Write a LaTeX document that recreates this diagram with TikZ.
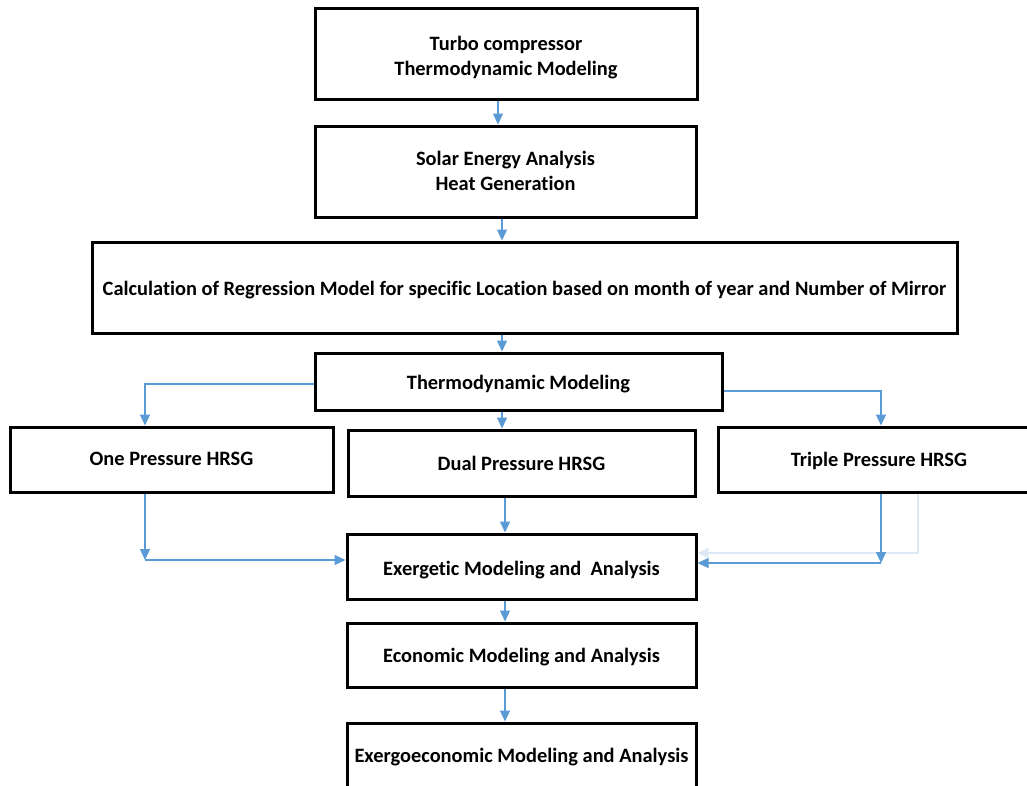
\documentclass[tikz,border=0pt]{standalone}
\usepackage{fontspec}
\setmainfont{Carlito}[Ligatures={NoCommon,NoContextual}]
\usepackage{tikz}
\usetikzlibrary{arrows.meta,positioning,calc}

\definecolor{flowblue}{RGB}{91,155,213}
\definecolor{faintblue}{RGB}{222,232,246}
% text of a box, lowered without changing the box size
\newcommand{\boxtext}[2]{\raisebox{#1}[\height][\depth]{\begin{tabular}{@{}c@{}}#2\end{tabular}}}

\begin{document}
\begin{tikzpicture}[x=1pt,y=-1pt,
    box/.style={draw=black, line width=3pt, fill=white,
      font=\fontsize{20.4}{25}\selectfont\bfseries, inner sep=0pt},
    flow/.style={draw=flowblue, line width=1.2pt, ->, >={Triangle[length=11pt,width=10pt]}},
    faint/.style={draw=faintblue, line width=1.2pt, ->, >={Triangle[length=11pt,width=10pt]}}]
  \useasboundingbox (0,0) rectangle (1027,785);
  \clip (0,0) rectangle (1027,785);
  % boxes
  \node[box, minimum width=382pt, minimum height=91pt] (turbo) at (506,53.5)
    {\boxtext{-4.5pt}{Turbo compressor\\Thermodynamic Modeling}};
  \node[box, minimum width=381pt, minimum height=91pt] (solar) at (505.5,171.5)
    {\boxtext{-1.5pt}{Solar Energy Analysis\\Heat Generation}};
  \node[box, minimum width=865pt, minimum height=91pt] (regr) at (524.5,287.5)
    {\boxtext{-3pt}{Calculation of Regression Model for specific Location based on month of year and Number of Mirror}};
  \node[box, minimum width=407pt, minimum height=57pt] (thermo) at (518.5,381.5)
    {\boxtext{-3pt}{Thermodynamic Modeling}};
  \node[box, minimum width=323pt, minimum height=65pt] (one) at (171.5,459.5)
    {\boxtext{-1pt}{One Pressure HRSG}};
  \node[box, minimum width=347pt, minimum height=66pt] (dual) at (521.5,463)
    {\boxtext{-2pt}{Dual Pressure HRSG}};
  \node[box, minimum width=322pt, minimum height=65pt] (triple) at (879,459.5)
    {\boxtext{-2pt}{Triple Pressure HRSG}};
  \node[box, minimum width=349pt, minimum height=65pt] (exerg) at (521.5,566.5)
    {\boxtext{-4pt}{Exergetic Modeling and\ \ Analysis}};
  \node[box, minimum width=349pt, minimum height=64pt] (econ) at (521.5,655)
    {\boxtext{-2pt}{Economic Modeling and Analysis}};
  \node[box, minimum width=349pt, minimum height=64pt] (execo) at (521.5,755)
    {\boxtext{-2pt}{Exergoeconomic Modeling and Analysis}};
  % corners
  \coordinate (onecorner) at (145,560);
  \coordinate (tricorner) at (881,563);
  % connectors
  \draw[flow] ([xshift=-8pt]turbo.south) -- ([xshift=-8pt]turbo.south |- solar.north);
  \draw[flow] ([xshift=-3.5pt]solar.south) -- ([xshift=-3.5pt]solar.south |- regr.north);
  \draw[flow] ([xshift=-16.5pt]thermo.north |- regr.south) -- ([xshift=-16.5pt]thermo.north);
  \draw[flow] ([xshift=-16.5pt]thermo.south) -- ([xshift=-16.5pt]thermo.south |- dual.north);
  \draw[flow] ([yshift=-2.5pt]thermo.west) -| ([xshift=-26.5pt]one.north);
  \draw[flow] ([yshift=-9.5pt]thermo.east) -| ([xshift=2pt]triple.north);
  \draw[flow] ([xshift=-16.5pt]dual.south) -- ([xshift=-16.5pt]dual.south |- exerg.north);
  \draw[flow] ([xshift=-26.5pt]one.south) -- (onecorner);
  \draw[flow] (onecorner) -- (onecorner -| exerg.west);
  \draw[faint] ([xshift=39pt]triple.south) |- ([yshift=13.5pt]exerg.east);
  \draw[flow] ([xshift=2pt]triple.south) -- (tricorner);
  \draw[flow] (tricorner) -- (tricorner -| exerg.east);
  \draw[flow] ([xshift=-16.5pt]exerg.south) -- ([xshift=-16.5pt]exerg.south |- econ.north);
  \draw[flow] ([xshift=-16.5pt]econ.south) -- ([xshift=-16.5pt]econ.south |- execo.north);
\end{tikzpicture}
\end{document}
